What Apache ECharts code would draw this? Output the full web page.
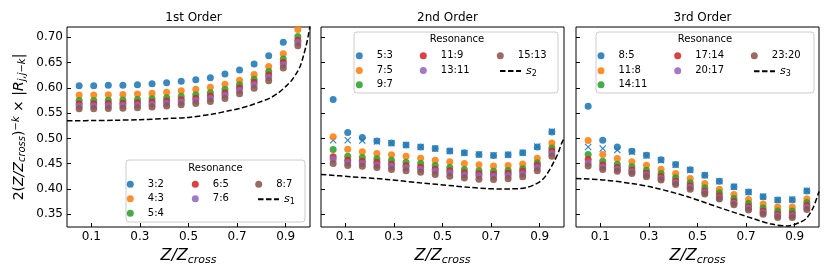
<!DOCTYPE html>
<html><head><meta charset="utf-8">
<script src="https://cdn.jsdelivr.net/npm/echarts@6/dist/echarts.min.js"></script>
<style>html,body{margin:0;padding:0;background:#fff}#c{width:830px;height:277px}</style>
</head><body><div id="c"></div>
<script>
// ---------------- DATA ----------------
const xVals = [0.05,0.11,0.17,0.23,0.29,0.35,0.41,0.47,0.53,0.59,0.65,0.71,0.77,0.83,0.89,0.95];
const xTicks = [0.1,0.3,0.5,0.7,0.9];
const yTicks = [0.35,0.40,0.45,0.50,0.55,0.60,0.65,0.70];
const panelTitles = ['1st Order','2nd Order','3rd Order'];

const names1 = ['3:2','4:3','5:4','6:5','7:6','8:7'];
const p1_0 = [0.604,0.604,0.605,0.605,0.606,0.608,0.610,0.613,0.616,0.620,0.627,0.635,0.647,0.663,0.690,0.745];
const p1_1 = [0.5855,0.5855,0.586,0.5865,0.5875,0.589,0.591,0.594,0.597,0.601,0.607,0.615,0.626,0.642,0.667,0.715];
const p1_2 = [0.575,0.575,0.5755,0.576,0.577,0.5785,0.5805,0.583,0.586,0.590,0.5965,0.606,0.617,0.632,0.657,0.701];
const p1_3 = [0.5685,0.5685,0.569,0.5695,0.5705,0.572,0.574,0.5765,0.5795,0.5835,0.5895,0.5995,0.611,0.625,0.650,0.694];
const p1_4 = [0.564,0.564,0.5645,0.565,0.566,0.5675,0.5695,0.572,0.575,0.579,0.585,0.5945,0.606,0.6205,0.6455,0.6895];
const p1_5 = [0.5585,0.5585,0.559,0.5595,0.5605,0.562,0.564,0.5665,0.569,0.573,0.579,0.588,0.599,0.614,0.639,0.683];
const s1X = [0,0.05,0.1,0.2,0.3,0.4,0.5,0.6,0.67,0.71,0.75,0.8,0.835,0.87,0.904,0.925,0.946,0.96,0.973,0.985,0.993,1.0];
const s1Y = [0.535,0.535,0.5352,0.5358,0.537,0.539,0.5415,0.548,0.555,0.559,0.5645,0.573,0.5795,0.59,0.6042,0.615,0.630,0.643,0.663,0.685,0.703,0.722];

const names2 = ['5:3','7:5','9:7','11:9','13:11','15:13'];
const p2_0 = [0.5766,0.5115,0.5017,0.495,0.4911,0.4871,0.4832,0.480,0.4753,0.4714,0.4682,0.4662,0.4675,0.4714,0.4832,0.5128];
const p2_1 = [0.503,0.4787,0.4734,0.4702,0.4675,0.4649,0.461,0.457,0.4537,0.4505,0.4478,0.4457,0.4465,0.4495,0.461,0.4911];
const p2_2 = [0.478,0.4649,0.4623,0.4596,0.457,0.453,0.4505,0.4466,0.4426,0.4386,0.436,0.435,0.4365,0.440,0.452,0.4812];
const p2_3 = [0.4635,0.457,0.455,0.453,0.4491,0.4458,0.443,0.439,0.436,0.432,0.430,0.4294,0.431,0.435,0.4471,0.4753];
const p2_4 = [0.4583,0.4517,0.4505,0.4475,0.445,0.442,0.439,0.435,0.432,0.428,0.426,0.425,0.4265,0.430,0.4425,0.4702];
const p2_5 = [0.4505,0.4466,0.4452,0.4426,0.4386,0.436,0.4333,0.4287,0.4254,0.422,0.4195,0.419,0.4205,0.424,0.436,0.4649];
const p2_cross = [0.4964,0.4964,0.4957,0.494,0.4905,0.4868,0.483,0.4798,0.4752,0.4713,0.4683,0.4665,0.4678,0.4718,0.4838,0.5135];
const s2X = [0,0.13,0.27,0.406,0.543,0.62,0.68,0.735,0.78,0.82,0.85,0.88,0.9,0.92,0.94,0.96,0.975,0.99,1.0];
const s2Y = [0.4288,0.424,0.419,0.4122,0.4063,0.403,0.401,0.400,0.4003,0.401,0.4035,0.409,0.4142,0.423,0.4373,0.455,0.47,0.49,0.50];

const names3 = ['8:5','11:8','14:11','17:14','20:17','23:20'];
const p3_0 = [0.5634,0.4964,0.4832,0.4747,0.4668,0.4576,0.4485,0.4379,0.4274,0.4156,0.4044,0.3939,0.3847,0.3781,0.3788,0.3959];
const p3_1 = [0.4958,0.4682,0.4603,0.4537,0.4471,0.4392,0.4307,0.4209,0.4111,0.3998,0.3894,0.3795,0.3702,0.3643,0.3643,0.3801];
const p3_2 = [0.4682,0.455,0.4491,0.4438,0.4373,0.4307,0.4221,0.4122,0.4024,0.3925,0.3815,0.3716,0.3624,0.3564,0.3564,0.3736];
const p3_3 = [0.4583,0.4475,0.4425,0.4375,0.431,0.4245,0.416,0.4063,0.3963,0.3865,0.3755,0.3652,0.3565,0.3505,0.3505,0.3675];
const p3_4 = [0.4515,0.443,0.439,0.434,0.4275,0.421,0.4125,0.403,0.393,0.383,0.372,0.3618,0.353,0.347,0.347,0.3635];
const p3_5 = [0.4457,0.4386,0.4353,0.4307,0.424,0.4176,0.4091,0.3998,0.39,0.3801,0.3689,0.3584,0.35,0.344,0.344,0.3598];
const p3_cross = [0.483,0.480,0.477,0.4735,0.466,0.457,0.448,0.4375,0.4272,0.4155,0.4043,0.394,0.385,0.3785,0.3795,0.3968];
const s3X = [0,0.118,0.228,0.324,0.46,0.6,0.735,0.804,0.872,0.927,0.95,0.975,1.0];
const s3Y = [0.421,0.4176,0.411,0.4024,0.3847,0.3618,0.3407,0.3308,0.327,0.3354,0.343,0.362,0.395];

const colors = ['#1f77b4','#ff7f0e','#2ca02c','#d62728','#9467bd','#8c564b'];
const lineNames = ['s1','s2','s3'];

// ---------------- LAYOUT ----------------
const FONT = 'DejaVu Sans';
const gridLefts = [67, 321, 576];
const GW = 243, GT = 27, GH = 200;
const panels = [
  {names: names1, vals: [p1_0,p1_1,p1_2,p1_3,p1_4,p1_5], sx: s1X, sy: s1Y, cross: null},
  {names: names2, vals: [p2_0,p2_1,p2_2,p2_3,p2_4,p2_5], sx: s2X, sy: s2Y, cross: p2_cross},
  {names: names3, vals: [p3_0,p3_1,p3_2,p3_3,p3_4,p3_5], sx: s3X, sy: s3Y, cross: p3_cross}
];
const legLayout = [
  {box:[126,160,179,62], title:[215.5,168], cols:[126.8,191.8,255.2], dash:257, rows:[182.7,197.3,211.7]},
  {box:[354,32,204,61], title:[457,39.5], cols:[355.8,419.8,496.8], dash:499, rows:[54.3,69,83.3]},
  {box:[596,32,218,61], title:[705,39.5], cols:[597.5,674.2,750.8], dash:753, rows:[54.3,69.3,83.3]}
];

const grids = [], xAxes = [], yAxes = [], series = [], titles = [], legends = [], graphics = [];
const xName = '{i|Z}{i|/}{i|Z}{sub|cross}';
const xRich = {i:{fontStyle:'italic',fontSize:16,fontFamily:FONT,color:'#000'}, sub:{fontStyle:'italic',fontSize:11,fontFamily:FONT,color:'#000',verticalAlign:'bottom',padding:[8,0,0,0]}};

panels.forEach((p, k) => {
  grids.push({left: gridLefts[k], top: GT, width: GW, height: GH, show: true, borderColor: '#000', borderWidth: 1, backgroundColor: 'transparent'});
  xAxes.push({gridIndex:k, type:'value', min:0, max:1,
    name: xName, nameLocation:'middle', nameGap: 12, nameTextStyle:{rich: xRich},
    axisLine:{show:false}, splitLine:{show:false},
    axisTick:{show:true, inside:true, length:4, lineStyle:{color:'#000'}, customValues: xTicks},
    axisLabel:{show:true, customValues: xTicks, margin:4, color:'#000', fontSize:12, fontFamily:FONT, formatter: v => v.toFixed(1)}});
  yAxes.push({gridIndex:k, type:'value', min:0.325, max:0.72,
    axisLine:{show:false}, splitLine:{show:false},
    axisTick:{show:true, inside:true, length:4, lineStyle:{color:'#000'}, customValues: yTicks},
    axisLabel:{show:k===0, customValues: yTicks, margin:4, color:'#000', fontSize:12, fontFamily:FONT, formatter: v => v.toFixed(2)},
    name: k===0 ? '{n|2(}{i|Z}{i|/}{i|Z}{sub|cross}{n|)}{sup|−k}{n| × |}{i|R}{sub|j,j−k}{n||}' : '',
    nameLocation:'middle', nameGap: 40, nameRotate: 90,
    nameTextStyle:{rich:{
      n:{fontSize:14,fontFamily:FONT,color:'#000'},
      i:{fontSize:14,fontFamily:FONT,fontStyle:'italic',color:'#000'},
      sub:{fontSize:10,fontFamily:FONT,fontStyle:'italic',color:'#000',verticalAlign:'bottom',padding:[6,0,0,0]},
      sup:{fontSize:10,fontFamily:FONT,fontStyle:'italic',color:'#000',verticalAlign:'top',padding:[0,0,6,0]}
    }}});
  titles.push({text: panelTitles[k], left: gridLefts[k] + GW/2, top: 7, textAlign:'center',
    textStyle:{fontSize:12, fontWeight:'normal', fontFamily:FONT, color:'#000'}});

  if (p.cross) {
    series.push({name: p.names[0] + ' ×', type:'scatter', xAxisIndex:k, yAxisIndex:k, clip:true,
      symbol:'path://M0,1.2L1.2,0L5,3.8L8.8,0L10,1.2L6.2,5L10,8.8L8.8,10L5,6.2L1.2,10L0,8.8L3.8,5Z',
      symbolSize:7, itemStyle:{color:colors[0], opacity:0.9}, z:1,
      data: xVals.map((x,i)=>[x, p.cross[i]])});
  }
  p.vals.forEach((arr, j) => {
    series.push({name: p.names[j], type:'scatter', xAxisIndex:k, yAxisIndex:k, clip:true,
      symbol:'circle', symbolSize:7, itemStyle:{color:colors[j], opacity:0.88}, z:2,
      data: xVals.map((x,i)=>[x, arr[i]])});
  });
  series.push({name: lineNames[k], type:'line', xAxisIndex:k, yAxisIndex:k, clip:true,
    symbol:'none', showSymbol:false, smooth:0.3, z:3,
    lineStyle:{color:'#000', width:1.5, type:[5.5,2.5]}, itemStyle:{color:'#000'},
    data: p.sx.map((x,i)=>[x, p.sy[i]])});

  const L = legLayout[k];
  graphics.push({type:'rect', shape:{x:L.box[0], y:L.box[1], width:L.box[2], height:L.box[3], r:3},
    style:{fill:'rgba(255,255,255,0.8)', stroke:'#cccccc', lineWidth:1}, z:10});
  graphics.push({type:'text', x:L.title[0], y:L.title[1], z:12,
    style:{text:'Resonance', fontSize:10, fontFamily:FONT, fill:'#000', textAlign:'center', textVerticalAlign:'middle'}});
  const items = [[p.names[0],0,0],[p.names[1],0,1],[p.names[2],0,2],[p.names[3],1,0],[p.names[4],1,1],[p.names[5],2,0],[lineNames[k],2,1]];
  items.forEach(([nm, c, r]) => {
    const isLine = nm === lineNames[k];
    const lg = {data:[nm], left: isLine ? L.dash : L.cols[c], top: L.rows[r] - 3.5, orient:'vertical', padding:0,
      itemWidth: isLine ? 21 : 25, itemHeight: 7, itemGap: 0, z: 11, selectedMode:false,
      formatter: isLine ? ('{i|s}{sub|' + (k+1) + '}') : '{a|' + nm + '}',
      textStyle:{fontSize:10, fontFamily:FONT, color:'#000', rich:{
        a:{fontSize:10, fontFamily:FONT, color:'#000'},
        i:{fontSize:11, fontFamily:FONT, fontStyle:'italic', color:'#000'},
        sub:{fontSize:8, fontFamily:FONT, color:'#000', verticalAlign:'bottom', padding:[5,0,0,0]}}}};
    if (isLine) lg.itemStyle = {opacity:0};
    legends.push(lg);
  });
});

const chart = echarts.init(document.getElementById('c'), null, {renderer:'canvas'});
chart.setOption({
  animation:false,
  backgroundColor:'#fff',
  title: titles,
  grid: grids, xAxis: xAxes, yAxis: yAxes,
  legend: legends,
  graphic: graphics,
  series: series
});
</script>
</body></html>
